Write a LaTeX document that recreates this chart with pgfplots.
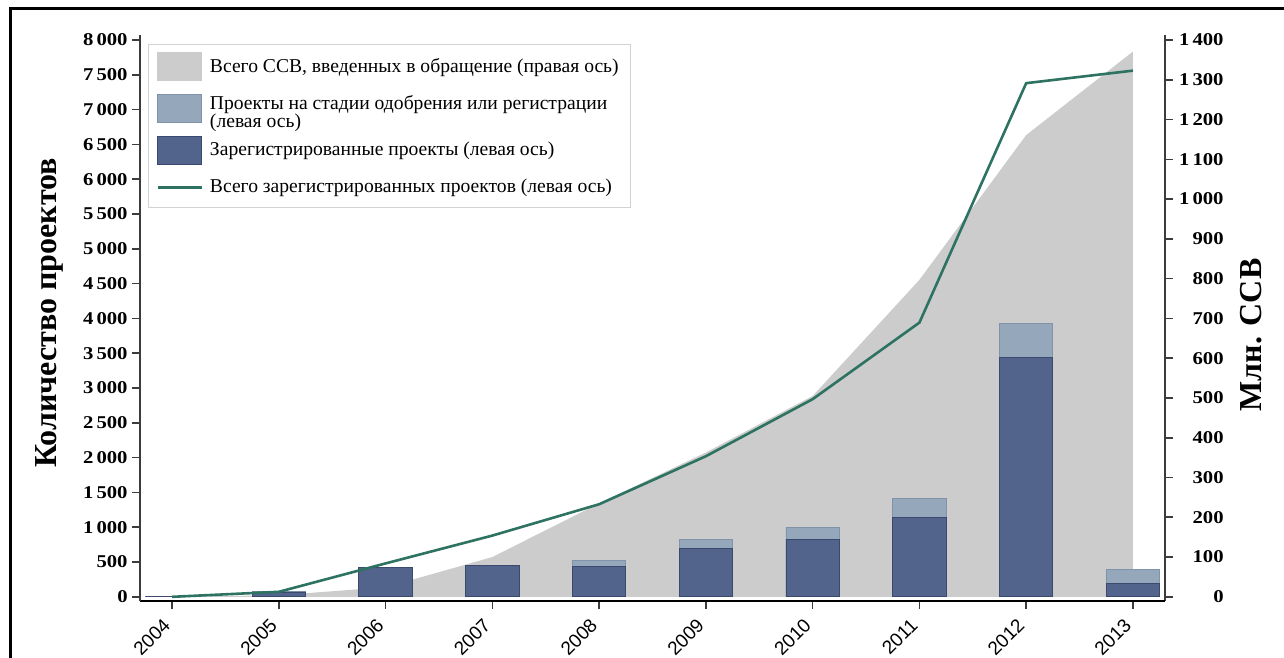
\documentclass[border=0pt]{standalone}
\usepackage{pgfplots}
\pgfplotsset{compat=1.18}
\usepackage{fontspec}
\setmainfont{Liberation Serif}
\newfontfamily\tickfont[FakeStretch=1.15]{Liberation Serif}
\newfontfamily\xfont{Liberation Sans}

\definecolor{areagray}{HTML}{CCCCCC}
\definecolor{barlight}{HTML}{94A7BB}
\definecolor{barlightedge}{HTML}{8193A8}
\definecolor{bardark}{HTML}{52648C}
\definecolor{bardarkedge}{HTML}{3A4A6E}
\definecolor{lineteal}{HTML}{2E7262}
\definecolor{axisgray}{HTML}{3C3C3C}

\pgfplotsset{
  base/.style={
    scale only axis, width=512.5pt, height=283pt,
    at={(70pt,28.5pt)}, anchor=south west,
    xmin=-0.3, xmax=9.3,
    tick align=outside, major tick length=4pt,
    every tick/.style={axisgray, line width=0.8pt},
    /pgf/number format/.cd, 1000 sep={\hspace{1.5pt}}, assume math mode=true,
  },
  boxlegend/.style={legend image code/.code={\draw[##1] (0pt,-7pt) rectangle (22pt,7pt);}},
  linelegend/.style={legend image code/.code={\draw[##1] (0pt,0pt) -- (22pt,0pt);}},
}

\begin{document}
\begin{tikzpicture}
\path[use as bounding box] (0,0) rectangle (642pt,329pt);
\draw[line width=1.5pt] (5.25pt,0) -- (5.25pt,324.5pt) -- (642pt,324.5pt);

% right axis: cumulative CERs issued, mln
\begin{axis}[base,
  ymin=-10.5, ymax=1412.6,
  axis x line=none, axis y line*=right,
  axis line style={axisgray, line width=0.8pt},
  ytick={0,100,...,1400},
  yticklabel style={font=\tickfont\bfseries\fontsize{9}{10}\selectfont, anchor=east, inner sep=0pt, xshift=25.5pt},
  ylabel={Млн. ССВ},
  ylabel style={font=\bfseries\fontsize{16}{18}\selectfont, at={(axis description cs:1.084,0.47)}, anchor=center},
]
\addplot[fill=areagray, draw=none] coordinates {
  (0,0) (1,4) (2,24) (3,100) (4,235) (5,363) (6,505) (7,797) (8,1161) (9,1371)
} \closedcycle;
\end{axis}

% left axis: number of projects
\begin{axis}[base,
  ymin=-60, ymax=8072,
  axis y line*=left, axis x line*=bottom,
  y axis line style={axisgray, line width=0.8pt},
  x axis line style={black, line width=1pt},
  xtick={0,...,9},
  xticklabels={2004,2005,2006,2007,2008,2009,2010,2011,2012,2013},
  xticklabel style={font=\xfont\fontsize{9.5}{11}\selectfont, yshift=-6.5pt, xshift=-2.5pt, rotate=45, anchor=east, inner sep=0pt},
  ytick={0,500,...,8000},
  yticklabel style={font=\tickfont\bfseries\fontsize{9}{10}\selectfont, anchor=east, inner sep=0pt, xshift=-2pt},
  ylabel={Количество проектов},
  ylabel style={font=\bfseries\fontsize{16}{18}\selectfont, at={(axis description cs:-0.0887,0.509)}, anchor=center},
  legend cell align=left,
  legend style={at={(axis description cs:0.0078,0.984)}, anchor=north west,
    draw=gray!35, fill=white, inner sep=4pt, row sep=5pt,
    font=\fontsize{9.8}{8.5}\selectfont,
    /tikz/every odd column/.append style={column sep=1.5pt}},
]
\addlegendimage{boxlegend, fill=areagray, draw=areagray}
\addlegendentry{Всего ССВ, введенных в обращение (правая ось)}

\addplot[ybar, bar width=0.5, bar shift=0pt, fill=barlight, draw=barlightedge, boxlegend] coordinates {
  (0,0) (1,75) (2,425) (3,455) (4,523) (5,821) (6,1003) (7,1411) (8,3931) (9,394)
};
\addlegendentry{\begin{tabular}{@{}l@{}}Проекты на стадии одобрения или регистрации\\(левая ось)\end{tabular}}

\addplot[ybar, bar width=0.5, bar shift=0pt, fill=bardark, draw=bardarkedge, boxlegend] coordinates {
  (0,0) (1,70) (2,420) (3,446) (4,442) (5,696) (6,826) (7,1138) (8,3437) (9,197)
};
\addlegendentry{Зарегистрированные проекты (левая ось)}

\addplot[lineteal, line width=1.3pt, linelegend] coordinates {
  (0,0) (1,72) (2,480) (3,880) (4,1330) (5,2020) (6,2840) (7,3940) (8,7380) (9,7560)
};
\addlegendentry{Всего зарегистрированных проектов (левая ось)}
\end{axis}
\end{tikzpicture}
\end{document}
